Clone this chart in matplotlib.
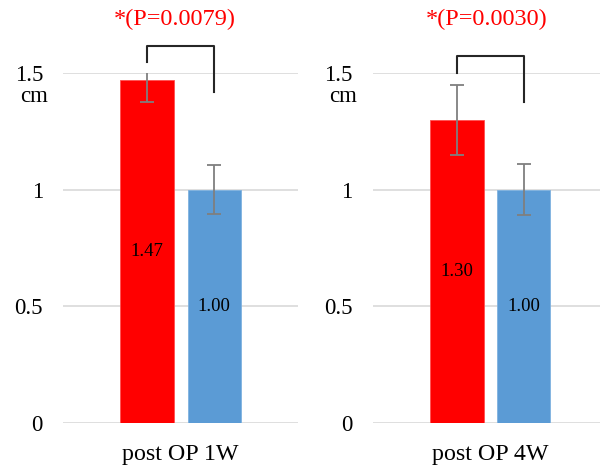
import matplotlib
matplotlib.use('Agg')
import matplotlib.pyplot as plt

plt.rcParams['font.family'] = ['Liberation Serif', 'DejaVu Serif']

# measurements per time point
groups = ['post OP 1W', 'post OP 4W']
treated = [1.47, 1.30]
treated_err = [0.095, 0.15]
control = [1.00, 1.00]
control_err = [0.105, 0.11]
p_labels = ['*(P=0.0079)', '*(P=0.0030)']
yticks = [0, 0.5, 1, 1.5]
ytick_labels = ['0', '0.5', '1', '1.5']

red = '#ff0000'
blue = '#5b9bd5'
grid_gray = '#d9d9d9'
err_gray = '#7f7f7f'

fig = plt.figure(figsize=(6.0, 4.67), dpi=100)
axes = [fig.add_axes([0.105, 0.094, 0.392, 0.75]),
        fig.add_axes([0.621, 0.094, 0.392, 0.75])]

# bracket geometry (data units, above the axes)
bracket_top = [1.615, 1.573]
bracket_left = [1.546, 1.50]
bracket_right = [1.418, 1.375]
p_x = [-0.05, -0.03]

for i, ax in enumerate(axes):
    xs = [-0.285, 0.285]
    ax.bar(xs[0], treated[i], width=0.46, color=red, edgecolor='#ff5050', linewidth=0.6, zorder=2)
    ax.bar(xs[1], control[i], width=0.45, color=blue, edgecolor='#7fb2e0', linewidth=0.6, zorder=2)
    ax.errorbar(xs, [treated[i], control[i]], yerr=[treated_err[i], control_err[i]],
                fmt='none', ecolor=err_gray, elinewidth=1.3, capsize=5, capthick=1.3, zorder=3)

    ax.text(xs[0], treated[i] / 2, f'{treated[i]:.2f}', ha='center', va='center', fontsize=13.5)
    ax.text(xs[1], control[i] / 2, f'{control[i]:.2f}', ha='center', va='center', fontsize=13.5)

    ax.set_xlim(-1, 1)
    ax.set_ylim(0, 1.5)
    ax.set_yticks(yticks)
    ax.set_yticklabels(ytick_labels)
    ax.set_xticks([0])
    ax.set_xticklabels([groups[i]])
    ax.tick_params(axis='y', length=0, pad=14.4, labelsize=16.5)
    ax.tick_params(axis='x', length=0, pad=15, labelsize=17.3)
    ax.grid(axis='y', color=grid_gray, linewidth=1.2, zorder=0)
    ax.set_axisbelow(True)
    for s in ax.spines.values():
        s.set_visible(False)

    ax.text(-1.13, 1.40, 'cm', ha='right', va='center', fontsize=16.5, clip_on=False)

    # significance bracket
    ax.plot([xs[0], xs[0], xs[1], xs[1]],
            [bracket_left[i], bracket_top[i], bracket_top[i], bracket_right[i]],
            color='#262626', linewidth=1.5, clip_on=False)
    ax.text(p_x[i], 1.73, p_labels[i], ha='center', va='center', color=red, fontsize=17.5, clip_on=False)

fig.savefig('out.png', dpi=100)
